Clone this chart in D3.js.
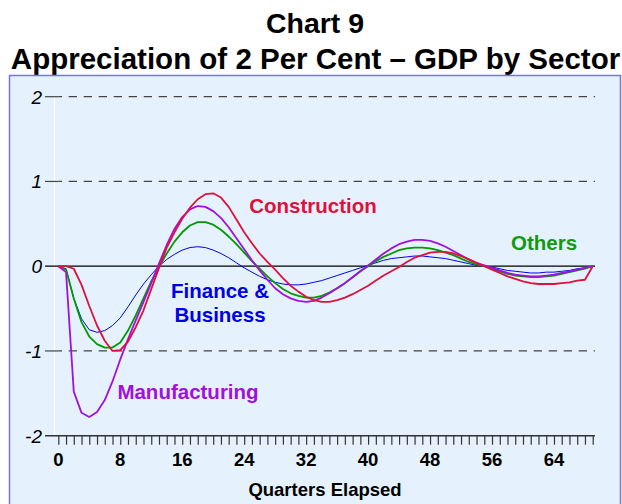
<!DOCTYPE html>
<html>
<head>
<meta charset="utf-8">
<script src="https://cdn.jsdelivr.net/npm/d3@7"></script>
<style>
  body { margin: 0; background: #fff; }
  svg { display: block; font-family: "Liberation Sans", Arial, sans-serif; }
</style>
</head>
<body>
<svg id="chart" width="622" height="504"></svg>
<script>
// quarters elapsed 0..69
const quarters = d3.range(0, 70);
const xTicks = [0, 8, 16, 24, 32, 40, 48, 56, 64];
const yTicks = [-2, -1, 0, 1, 2];

const construction = [
  0, 0, -0.03, -0.22, -0.47, -0.70, -0.88, -1.00, -0.99, -0.89,
  -0.72, -0.52, -0.27, -0.02, 0.22, 0.40, 0.56, 0.69, 0.79, 0.85,
  0.86, 0.81, 0.70, 0.55, 0.40, 0.27, 0.15, 0.05, -0.04, -0.14,
  -0.23, -0.30, -0.36, -0.40, -0.42, -0.42, -0.40, -0.37, -0.33, -0.28,
  -0.23, -0.17, -0.11, -0.06, -0.01, 0.05, 0.10, 0.13, 0.16, 0.17,
  0.17, 0.15, 0.12, 0.08, 0.04, 0.00, -0.04, -0.08, -0.12, -0.15,
  -0.18, -0.20, -0.21, -0.21, -0.21, -0.20, -0.19, -0.17, -0.16, 0
];
const manufacturing = [
  0, -0.07, -1.48, -1.73, -1.78, -1.72, -1.58, -1.36, -1.10, -0.86,
  -0.64, -0.42, -0.20, 0.03, 0.25, 0.44, 0.58, 0.67, 0.71, 0.70,
  0.65, 0.57, 0.46, 0.33, 0.20, 0.07, -0.05, -0.16, -0.26, -0.33,
  -0.38, -0.41, -0.42, -0.41, -0.37, -0.32, -0.26, -0.20, -0.13, -0.06,
  0.01, 0.08, 0.15, 0.21, 0.26, 0.29, 0.31, 0.31, 0.30, 0.27,
  0.23, 0.18, 0.13, 0.08, 0.04, 0.01, -0.02, -0.05, -0.08, -0.10,
  -0.11, -0.12, -0.12, -0.11, -0.10, -0.08, -0.06, -0.04, -0.02, 0
];
const others = [
  0, -0.04, -0.38, -0.66, -0.83, -0.92, -0.96, -0.96, -0.90, -0.76,
  -0.58, -0.38, -0.18, -0.01, 0.15, 0.29, 0.40, 0.48, 0.52, 0.52,
  0.49, 0.43, 0.35, 0.26, 0.16, 0.06, -0.03, -0.12, -0.20, -0.27,
  -0.32, -0.35, -0.37, -0.37, -0.35, -0.31, -0.26, -0.20, -0.13, -0.06,
  0.00, 0.06, 0.11, 0.15, 0.19, 0.21, 0.22, 0.22, 0.21, 0.19,
  0.16, 0.13, 0.09, 0.05, 0.02, 0.00, -0.03, -0.06, -0.09, -0.11,
  -0.12, -0.13, -0.13, -0.12, -0.11, -0.09, -0.07, -0.05, -0.03, 0
];
const finance = [
  0, -0.03, -0.38, -0.62, -0.75, -0.78, -0.76, -0.70, -0.61, -0.48,
  -0.34, -0.21, -0.10, 0.00, 0.08, 0.14, 0.19, 0.22, 0.23, 0.22,
  0.19, 0.15, 0.10, 0.04, -0.02, -0.07, -0.12, -0.16, -0.19, -0.21,
  -0.22, -0.22, -0.21, -0.19, -0.17, -0.14, -0.11, -0.08, -0.05, -0.02,
  0.01, 0.04, 0.07, 0.09, 0.10, 0.11, 0.12, 0.12, 0.11, 0.10,
  0.09, 0.07, 0.05, 0.03, 0.01, 0.00, -0.01, -0.03, -0.05, -0.06,
  -0.07, -0.08, -0.08, -0.07, -0.07, -0.06, -0.05, -0.03, -0.02, 0
];

const series = [
  { name: 'Finance', values: finance, color: '#0000ff', width: 1 },
  { name: 'Others', values: others, color: '#009a00', width: 1.8 },
  { name: 'Manufacturing', values: manufacturing, color: '#a010e0', width: 1.8 },
  { name: 'Construction', values: construction, color: '#e0103c', width: 1.8 }
];

const svg = d3.select('#chart');

const x = d3.scaleLinear().domain([0, 69]).range([58.3, 592.7]);
const y = d3.scaleLinear().domain([-2, 2]).range([435.7, 96.7]);

// titel
svg.append('text')
  .attr('x', 315).attr('y', 33)
  .attr('text-anchor', 'middle')
  .attr('font-size', 28.5).attr('font-weight', 'bold')
  .text('Chart 9');
svg.append('text')
  .attr('x', 315.5).attr('y', 69)
  .attr('text-anchor', 'middle')
  .attr('font-size', 29.5).attr('font-weight', 'bold')
  .text('Appreciation of 2 Per Cent \u2013 GDP by Sector');

// panel
svg.append('rect')
  .attr('x', 9.5).attr('y', 75.5)
  .attr('width', 611).attr('height', 440)
  .attr('fill', '#e5f2fd')
  .attr('stroke', '#7373ee').attr('stroke-width', 1.5);

// witte y-as
svg.append('line')
  .attr('x1', 54.5).attr('x2', 54.5)
  .attr('y1', y(2)).attr('y2', y(-2))
  .attr('stroke', '#fff');

// gridlijnen
const grid = svg.append('g');
[-1, 1, 2].forEach(v => {
  grid.append('line')
    .attr('x1', 45).attr('x2', x(0))
    .attr('y1', y(v)).attr('y2', y(v))
    .attr('stroke', '#444').attr('stroke-width', 1.2);
  grid.append('line')
    .attr('x1', x(0)).attr('x2', 595)
    .attr('y1', y(v)).attr('y2', y(v))
    .attr('stroke', '#444').attr('stroke-width', 1.2)
    .attr('stroke-dasharray', '8.3,6.7')
    .attr('stroke-dashoffset', 4.6);
});
grid.append('line')
  .attr('x1', 45).attr('x2', 595)
  .attr('y1', y(0)).attr('y2', y(0))
  .attr('stroke', '#000').attr('stroke-width', 1.2);

// y labels
svg.append('g').selectAll('text')
  .data(yTicks)
  .join('text')
  .attr('x', 42).attr('y', d => y(d))
  .attr('dy', '0.36em')
  .attr('text-anchor', 'end')
  .attr('font-size', 19).attr('font-style', 'italic')
  .text(d => d);

// x-as
const xAxis = d3.axisBottom(x)
  .tickValues(quarters)
  .tickSize(9)
  .tickFormat('');
const ax = svg.append('g')
  .attr('transform', `translate(0,${y(-2)})`)
  .call(xAxis);
ax.select('.domain').remove();
ax.selectAll('.tick line').attr('stroke', '#333').attr('stroke-width', 1.2);
ax.append('line')
  .attr('x1', 45).attr('x2', 595)
  .attr('stroke', '#333').attr('stroke-width', 1.4);

svg.append('g').selectAll('text')
  .data(xTicks)
  .join('text')
  .attr('x', d => x(d)).attr('y', 466)
  .attr('text-anchor', 'middle')
  .attr('font-size', 18.5).attr('font-weight', 'bold')
  .text(d => d);

svg.append('text')
  .attr('x', 325).attr('y', 496)
  .attr('text-anchor', 'middle')
  .attr('font-size', 18.5).attr('font-weight', 'bold')
  .text('Quarters Elapsed');

// lijnen
const line = d3.line()
  .x((d, i) => x(quarters[i]))
  .y(d => y(d));

svg.append('g').selectAll('path')
  .data(series)
  .join('path')
  .attr('d', d => line(d.values))
  .attr('fill', 'none')
  .attr('stroke', d => d.color)
  .attr('stroke-width', d => d.width)
  .attr('stroke-linejoin', 'round');

// labels bij de lijnen
const labels = [
  { text: 'Construction', x: 313, y: 213, color: '#e0103c' },
  { text: 'Others', x: 544, y: 250, color: '#109a10' },
  { text: 'Finance &', x: 220, y: 298, color: '#0000e8' },
  { text: 'Business', x: 220, y: 322, color: '#0000e8' },
  { text: 'Manufacturing', x: 188, y: 399, color: '#a010e0' }
];
svg.append('g').selectAll('text')
  .data(labels)
  .join('text')
  .attr('x', d => d.x).attr('y', d => d.y)
  .attr('text-anchor', 'middle')
  .attr('font-size', 20.5).attr('font-weight', 'bold')
  .attr('fill', d => d.color)
  .text(d => d.text);
</script>
</body>
</html>
